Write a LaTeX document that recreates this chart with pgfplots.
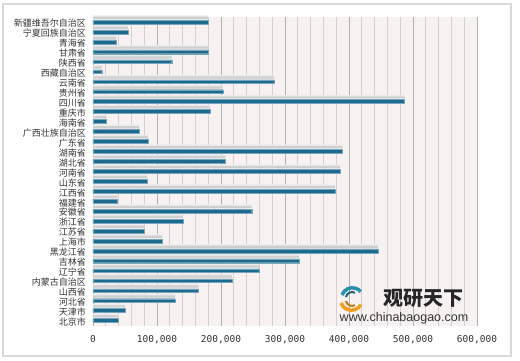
\documentclass[border=0pt]{standalone}
\usepackage{pgfplots}
\pgfplotsset{compat=1.18}
\usepackage{pgfplotstable}
\usetikzlibrary{calc}
\usepackage{fontspec}
\setmainfont{Liberation Sans}
\newfontfamily\cjk{Noto Sans CJK SC}
\newfontfamily\monof{DejaVu Sans Mono}
\definecolor{barblue}{HTML}{1D6A8F}
\definecolor{plotbg}{HTML}{F8F1F1}
\definecolor{gridmaj}{HTML}{B4B0B0}
\definecolor{gridmin}{HTML}{D6CFCF}
\definecolor{txt}{HTML}{333333}
\definecolor{logoteal}{HTML}{2A8FB0}
\definecolor{logoorange}{HTML}{F0A020}

\pgfplotstableread{
idx val
0 40000
1 50000
2 128000
3 165000
4 217000
5 259000
6 322000
7 445000
8 108000
9 80000
10 141000
11 248000
12 38000
13 378000
14 85000
15 386000
16 207000
17 390000
18 86000
19 72000
20 21000
21 183000
22 487000
23 203000
24 283000
25 13600
26 123000
27 180000
28 36000
29 55000
30 180000
}\datatable

\begin{document}
\begin{tikzpicture}
\begin{axis}[
  scale only axis,
  width=384pt, height=309pt,
  xmin=0, xmax=600000, ymin=-0.55, ymax=30.5,
  axis background/.style={fill=plotbg},
  axis line style={draw=none},
  tick style={draw=none},
  scaled x ticks=false,
  xtick={0,100000,200000,300000,400000,500000,600000},
  xticklabels={0,{100,000},{200,000},{300,000},{400,000},{500,000},{600,000}},
  minor x tick num=4,
  xmajorgrids, xminorgrids,
  major grid style={color=gridmaj, line width=0.9pt},
  minor grid style={color=gridmin, line width=0.9pt},
  xticklabel style={font=\monof\fontsize{9.5}{10}\selectfont, text=txt, inner sep=0pt, anchor=north},
  xticklabel shift=9pt,
  ytick={0,...,30},
  yticklabels={北京市,天津市,河北省,山西省,内蒙古自治区,辽宁省,吉林省,黑龙江省,上海市,江苏省,浙江省,安徽省,福建省,江西省,山东省,河南省,湖北省,湖南省,广东省,广西壮族自治区,海南省,重庆市,四川省,贵州省,云南省,西藏自治区,陕西省,甘肃省,青海省,宁夏回族自治区,新疆维吾尔自治区},
  yticklabel style={font=\cjk\fontsize{9}{9}\selectfont, text=txt, inner sep=0pt, anchor=east, yshift=-1.5pt},
  yticklabel shift=7pt,
  clip=false,
]
\addplot[xbar, bar width=5pt, bar shift=4.2pt, fill=gray!16, draw=none, forget plot] table[x=val,y=idx]{\datatable};
\addplot[xbar, bar width=2.2pt, bar shift=4.2pt, fill=gray!38, draw=none, forget plot] table[x=val,y=idx]{\datatable};
\addplot[xbar, bar width=3.8pt, bar shift=0pt, fill=barblue, draw=barblue!60!white, line width=0.4pt] table[x=val,y=idx]{\datatable};
\coordinate (O) at (rel axis cs:0,0);
\end{axis}
\begin{scope}[shift={($(O)+(-93pt,-35pt)$)}, x=1pt, y=1pt]
\draw[gray!30, line width=1.5pt] (3,5) rectangle (511,357);
% watermark
\draw[logoteal, line width=3.5pt] (342,66) arc[start angle=160, end angle=40, radius=11];
\draw[logoteal!70!black, line width=2pt] (346,64) arc[start angle=170, end angle=60, radius=6];
\draw[logoorange, line width=3.5pt] (341,58) arc[start angle=200, end angle=330, radius=11];
\draw[logoorange!80!black, line width=2pt] (346,60) arc[start angle=190, end angle=300, radius=6];
\node[font=\cjk\bfseries\fontsize{20}{20}\selectfont, text=black!85] at (423,63) {观研天下};
\node[font=\fontsize{12.5}{13}\selectfont, text=txt] at (404,43) {www.chinabaogao.com};
\pgfresetboundingbox
\path[use as bounding box] (0,0) rectangle (520,361);
\end{scope}
\end{tikzpicture}
\end{document}
